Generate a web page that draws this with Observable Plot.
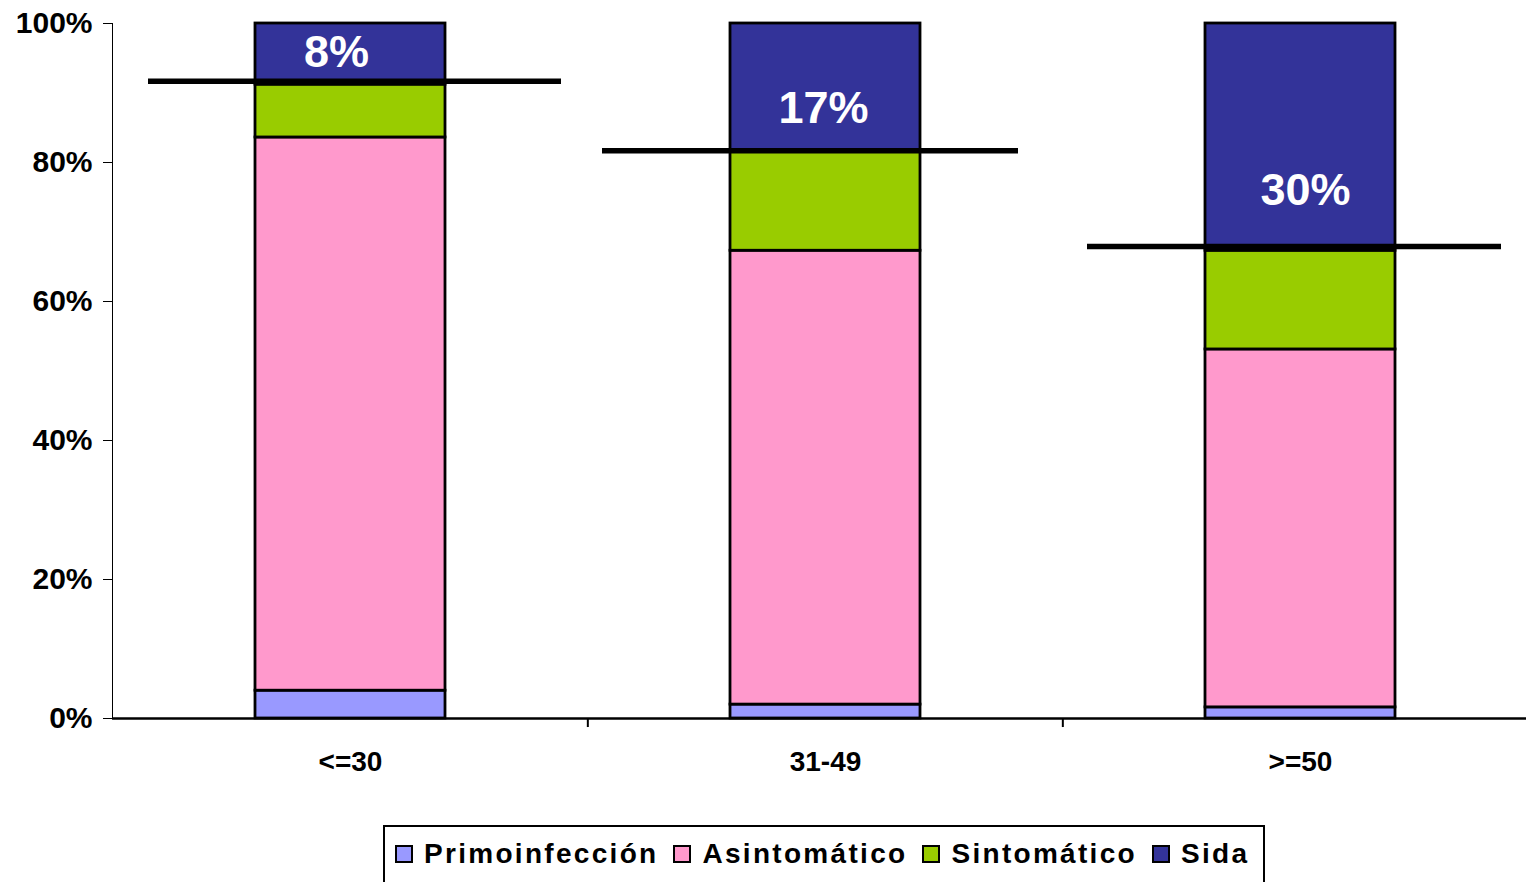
<!DOCTYPE html>
<html><head><meta charset="utf-8">
<script src="https://cdn.jsdelivr.net/npm/d3@7"></script>
<script src="https://cdn.jsdelivr.net/npm/@observablehq/plot@0.6"></script>
<style>
body{margin:0;background:#fff;font-family:"Liberation Sans",Arial,sans-serif;overflow:hidden;}
#chart svg{display:block;}
#legend{position:absolute;left:383px;top:825px;border:2px solid #000;padding:7px 14px 14px 10px;display:flex;align-items:center;background:#fff;}
.item{display:flex;align-items:center;font-weight:bold;font-size:28px;letter-spacing:2.3px;margin-right:15px;line-height:40px;}
.item:last-child{margin-right:0;}
.sw{width:14px;height:14px;border:2px solid #000;margin-right:11px;}
</style></head><body>
<div id="chart"></div>
<div id="legend"></div>
<script>
const categories = ["<=30", "31-49", ">=50"];
const series = ["Primoinfección", "Asintomático", "Sintomático", "Sida"];
const primo = [4.0, 2.0, 1.6];
const asint = [79.6, 65.3, 51.5];
const sint = [7.6, 14.4, 14.2];
const sida = [8.8, 18.3, 32.7];
const thresholdLine = [91.7, 81.7, 67.9];
const sidaLabels = ["8%", "17%", "30%"];
const sidaLabelY = [95.8, 87.8, 76.0];
const yTicks = [0, 20, 40, 60, 80, 100];
const colors = ["#9999FF", "#FF99CC", "#99CC00", "#333399"];

const seriesValues = [primo, asint, sint, sida];
const rows = [];
categories.forEach((c, i) => series.forEach((s, j) => rows.push({cat: c, series: s, value: seriesValues[j][i]})));
const lineRows = categories.map((c, i) => ({cat: c, v: thresholdLine[i]}));
const labelRows = categories.map((c, i) => ({cat: c, y: sidaLabelY[i], label: sidaLabels[i]}));

const W = 1526, H = 810, mL = 112, mT = 23, mB = 92;
const xRight = 1538;
const step = (xRight - mL) / categories.length;
// styling: horizontal extents of the threshold lines beyond each bar, and label nudges
const lineInsets = [[-107, -116], [-128, -98], [-118, -106]];
const labelDx = [-14, -2, 5];

const chart = Plot.plot({
  width: W, height: H,
  marginLeft: mL, marginRight: 0, marginTop: mT, marginBottom: mB,
  style: {fontFamily: '"Liberation Sans", Arial, sans-serif', fontSize: "28px", fontWeight: "bold", color: "#000", background: "#fff", overflow: "hidden"},
  x: {domain: categories, range: [mL, xRight], paddingInner: 0.6, paddingOuter: 0.3, label: null, tickSize: 0, tickPadding: 33},
  y: {domain: [0, 100], ticks: yTicks, tickFormat: d => d + "%", label: null, tickSize: 9, tickPadding: 11, line: true},
  color: {domain: series, range: colors},
  marks: [
    Plot.ruleY(yTicks.filter(d => d > 0), {x1: categories[0], x2: categories[categories.length - 1], insetLeft: -step, insetRight: -step, stroke: "#777", strokeDasharray: "8,6", strokeWidth: 1.5}),
    Plot.barY(rows, {x: "cat", y: "value", fill: "series", stroke: "#000", strokeWidth: 2.8}),
    Plot.ruleY([0], {stroke: "#000", strokeWidth: 2.5}),
    Plot.ruleX(categories.slice(1), {x: d => d, y1: 0, y2: -1.3, dx: -step / 2, stroke: "#000", strokeWidth: 2}),
    ...lineRows.map((r, i) => Plot.ruleY([r], {y: "v", x1: "cat", x2: "cat", insetLeft: lineInsets[i][0], insetRight: lineInsets[i][1], stroke: "#000", strokeWidth: 5.5})),
    ...labelRows.map((r, i) => Plot.text([r], {x: "cat", y: "y", text: "label", dx: labelDx[i], fill: "#fff", fontSize: 45, fontWeight: "bold"}))
  ]
});
d3.select(chart).selectAll('g[aria-label^="y-axis"] text').style("font-size", "30px");
document.getElementById("chart").appendChild(chart);

const legend = document.getElementById("legend");
series.forEach((s, i) => {
  const it = document.createElement("div");
  it.className = "item";
  const sw = document.createElement("span");
  sw.className = "sw";
  sw.style.background = colors[i];
  it.appendChild(sw);
  it.appendChild(document.createTextNode(s));
  legend.appendChild(it);
});
</script></body></html>
